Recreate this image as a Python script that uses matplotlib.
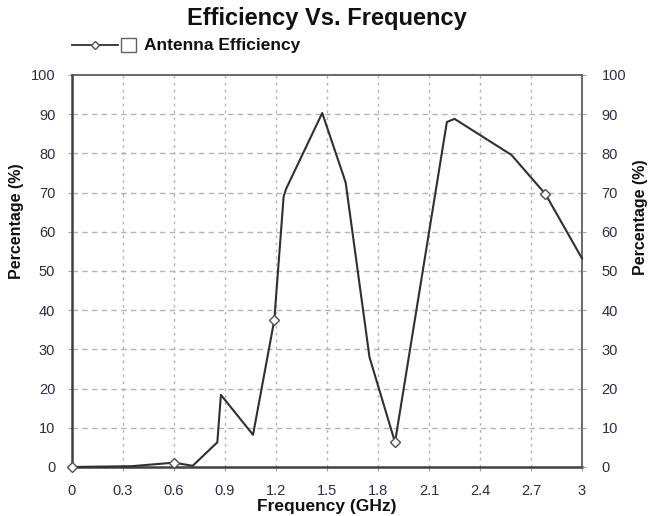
import matplotlib.pyplot as plt
from matplotlib.lines import Line2D
from matplotlib.patches import Rectangle

# data
freq = [0.0, 0.35, 0.60, 0.71, 0.855, 0.876, 1.065, 1.19, 1.245, 1.26, 1.472,
        1.595, 1.61, 1.75, 1.90, 2.205, 2.25, 2.585, 2.785, 3.0]
efficiency = [0.0, 0.2, 1.1, 0.3, 6.3, 18.4, 8.2, 37.5, 69.0, 71.0, 90.3,
              74.5, 72.5, 28.0, 6.3, 88.0, 88.8, 79.6, 69.6, 53.2]
marker_idx = [0, 2, 7, 14, 18]

x_ticks = [0, 0.3, 0.6, 0.9, 1.2, 1.5, 1.8, 2.1, 2.4, 2.7, 3.0]
x_labels = ['0', '0.3', '0.6', '0.9', '1.2', '1.5', '1.8', '2.1', '2.4', '2.7', '3']
y_ticks = list(range(0, 101, 10))

plt.rcParams['font.family'] = ['Liberation Sans', 'DejaVu Sans']
tick_color = '#322a44'
line_color = '#303030'

fig = plt.figure(figsize=(6.49, 5.16), dpi=100)
ax = fig.add_axes([0.1109, 0.0950, 0.7859, 0.7597])

ax.plot(freq, efficiency, color=line_color, linewidth=1.5,
        marker='D', markersize=5, markerfacecolor='white',
        markeredgecolor='#505050', markeredgewidth=1.0,
        markevery=marker_idx, zorder=3, clip_on=False)

ax.set_xlim(0, 3)
ax.set_ylim(0, 100)
ax.set_xticks(x_ticks)
ax.set_xticklabels(x_labels)
ax.set_yticks(y_ticks)

# grid: dotted verticals, dashed horizontals
for x in x_ticks[1:-1]:
    ax.axvline(x, color='#b4b4b4', linestyle=(0, (2, 3)), linewidth=1.0, zorder=1)
for y in y_ticks[1:-1]:
    ax.axhline(y, color='#b4b4b4', linestyle=(0, (4, 3)), linewidth=1.0, zorder=1)

for side in ['left', 'bottom']:
    ax.spines[side].set_linewidth(1.8)
    ax.spines[side].set_color('#404040')
for side in ['top', 'right']:
    ax.spines[side].set_linewidth(1.2)
    ax.spines[side].set_color('#505050')

ax.tick_params(axis='both', direction='out', length=3, width=0.8,
               color='#a0a0a0', labelsize=10.5, labelcolor=tick_color, pad=9)

ax2 = ax.twinx()
ax2.set_ylim(0, 100)
ax2.set_yticks(y_ticks)
ax2.tick_params(axis='y', direction='out', length=3, width=0.8,
                color='#a0a0a0', labelsize=10.5, labelcolor=tick_color, pad=11)
for side in ['left', 'bottom', 'top', 'right']:
    ax2.spines[side].set_visible(False)

narrow = ['Liberation Sans Narrow', 'Liberation Sans', 'DejaVu Sans']
fig.text(17 / 649, 1 - 221 / 516, 'Percentage (%)', rotation=90, ha='center',
         va='center', fontsize=11.5, fontweight='bold', family=narrow, color='#111111')
fig.text(640 / 649, 1 - 217 / 516, 'Percentage (%)', rotation=90, ha='center',
         va='center', fontsize=11.5, fontweight='bold', family=narrow, color='#111111')
ax.set_xlabel('Frequency (GHz)', fontsize=12.5, fontweight='bold', labelpad=1,
              color='#111111')

fig.text(0.503, 0.964, 'Efficiency Vs. Frequency', ha='center', va='center',
         fontsize=17, fontweight='bold', color='#111111')

# legend: line sample with marker, empty check box, label
legend_line = Line2D([72 / 649, 95 / 649, 118 / 649], [0.912, 0.912, 0.912],
                     transform=fig.transFigure, color=line_color, linewidth=1.3,
                     marker='D', markersize=4.5, markerfacecolor='white',
                     markeredgecolor='#505050', markevery=[1], clip_on=False)
fig.lines.append(legend_line)
fig.patches.append(Rectangle((121 / 649, 1 - 52 / 516), 15 / 649, 14 / 516,
                             transform=fig.transFigure, facecolor='white',
                             edgecolor='#606060', linewidth=1.0))
fig.text(144 / 649, 0.912, 'Antenna Efficiency', ha='left', va='center',
         fontsize=12.5, fontweight='bold', color='#111111')

fig.savefig('out.png', dpi=100)
